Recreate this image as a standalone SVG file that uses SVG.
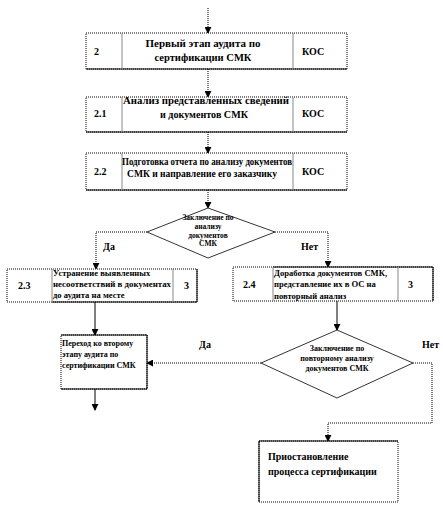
<svg xmlns="http://www.w3.org/2000/svg" width="443" height="516" viewBox="0 0 443 516">
<style>
text{font-family:"Liberation Serif","Times New Roman",serif;font-weight:bold;fill:#000;}
.t{font-size:10px;}
.n{font-size:10px;}
.m{font-size:8.6px;}
.s{font-size:7.5px;}
.p{font-size:8px;}
.q{font-size:10px;}
.box{fill:#fff;stroke:#000;stroke-width:1;stroke-dasharray:1 1;}
.solid{fill:none;stroke:#000;stroke-width:1;}
.div{stroke:#888;stroke-width:1;}
.dot{fill:none;stroke:#000;stroke-width:1;stroke-dasharray:1 1;}
.ln{fill:none;stroke:#000;stroke-width:1;}
</style>
<defs>
<marker id="ah" viewBox="0 0 8 8" refX="7" refY="4" markerWidth="7" markerHeight="7" orient="auto" markerUnits="userSpaceOnUse">
<path d="M0,0 L8,4 L0,8 z" fill="#000"/>
</marker>
</defs>
<g id="connectors">
<line class="dot" x1="208" y1="8" x2="208" y2="33" marker-end="url(#ah)"/>
<line class="dot" x1="208" y1="69" x2="208" y2="97" marker-end="url(#ah)"/>
<line class="dot" x1="208" y1="132" x2="208" y2="153" marker-end="url(#ah)"/>
<line class="dot" x1="208" y1="190" x2="208" y2="208" marker-end="url(#ah)"/>
<polyline class="dot" points="147,232 96,232 96,269" marker-end="url(#ah)"/>
<polyline class="dot" points="275,232 328,232 328,267" marker-end="url(#ah)"/>
<line class="ln" x1="337" y1="301" x2="337" y2="330" marker-end="url(#ah)"/>
<line class="ln" x1="95" y1="302" x2="95" y2="335" marker-end="url(#ah)"/>
<line class="ln" x1="95" y1="389" x2="95" y2="410" marker-end="url(#ah)"/>
<line class="dot" x1="261" y1="363" x2="147" y2="363" marker-end="url(#ah)"/>
<polyline class="dot" points="413,363 432,363 432,423 328,423 328,441" marker-end="url(#ah)"/>
<text class="t" x="103" y="250">Да</text>
<text class="t" x="301" y="250">Нет</text>
<text class="t" x="199" y="348">Да</text>
<text class="t" x="422" y="348">Нет</text>
</g>
<g id="node-2">
<rect class="box" x="86" y="33" width="261" height="36"/>
<line class="solid" x1="86" y1="69" x2="347" y2="69"/>
<line class="div" x1="122" y1="33" x2="122" y2="69"/>
<line class="div" x1="293" y1="33" x2="293" y2="69"/>
<text class="n" x="94" y="55">2</text>
<text class="t" x="203" y="47" text-anchor="middle" textLength="115" lengthAdjust="spacingAndGlyphs">Первый этап аудита по</text>
<text class="t" x="203" y="61" text-anchor="middle" textLength="97" lengthAdjust="spacingAndGlyphs">сертификации СМК</text>
<text class="n" x="302" y="55">КОС</text>
</g>
<g id="node-2-1">
<rect class="box" x="86" y="97" width="261" height="35"/>
<line class="solid" x1="86" y1="132" x2="347" y2="132"/>
<line class="div" x1="122" y1="97" x2="122" y2="132"/>
<line class="div" x1="293" y1="97" x2="293" y2="132"/>
<text class="n" x="94" y="117">2.1</text>
<text class="t" x="206" y="104" text-anchor="middle" textLength="166" lengthAdjust="spacingAndGlyphs">Анализ представленных сведений</text>
<text class="t" x="204" y="118" text-anchor="middle" textLength="88" lengthAdjust="spacingAndGlyphs">и документов СМК</text>
<text class="n" x="302" y="117">КОС</text>
</g>
<g id="node-2-2">
<rect class="box" x="86" y="153" width="261" height="37"/>
<line class="solid" x1="86" y1="190" x2="347" y2="190"/>
<line class="div" x1="122" y1="153" x2="122" y2="190"/>
<line class="div" x1="293" y1="153" x2="293" y2="190"/>
<text class="n" x="94" y="175">2.2</text>
<text class="t" x="207" y="165" text-anchor="middle" textLength="170" lengthAdjust="spacingAndGlyphs">Подготовка отчета по анализу документов</text>
<text class="t" x="202" y="177" text-anchor="middle" textLength="150" lengthAdjust="spacingAndGlyphs">СМК и направление его заказчику</text>
<text class="n" x="302" y="175">КОС</text>
</g>
<g id="decision-1">
<polygon points="208,208 275,232 208,258 147,232" fill="#fff" stroke="#000" stroke-width="0.8"/>
<text class="s" x="208" y="220" text-anchor="middle">Заключение по</text>
<text class="s" x="208" y="229" text-anchor="middle">анализу</text>
<text class="s" x="208" y="238" text-anchor="middle">документов</text>
<text class="s" x="208" y="246" text-anchor="middle">СМК</text>
</g>
<g id="node-2-3">
<rect class="box" x="7" y="269" width="190" height="33"/>
<line class="solid" x1="197" y1="269" x2="197" y2="302"/>
<line class="solid" x1="52" y1="302" x2="197" y2="302"/>
<line class="div" x1="52" y1="269" x2="52" y2="302"/>
<line class="div" x1="173" y1="269" x2="173" y2="302"/>
<text class="n" x="18" y="289">2.3</text>
<text class="m" x="53" y="276">Устранение выявленных</text>
<text class="m" x="53" y="287" textLength="118" lengthAdjust="spacingAndGlyphs">несоответствий в документах</text>
<text class="m" x="53" y="298">до аудита на месте</text>
<text class="n" x="184" y="289">3</text>
</g>
<g id="node-2-4">
<rect class="box" x="233" y="267" width="200" height="34"/>
<line class="solid" x1="273" y1="267" x2="433" y2="267"/>
<line class="solid" x1="433" y1="267" x2="433" y2="301"/>
<line class="div" x1="273" y1="267" x2="273" y2="301"/>
<line class="div" x1="398" y1="267" x2="398" y2="301"/>
<text class="n" x="243" y="288">2.4</text>
<text class="m" x="274" y="276">Доработка документов СМК,</text>
<text class="m" x="274" y="287">представление их в ОС на</text>
<text class="m" x="274" y="299">повторный анализ</text>
<text class="n" x="408" y="288">3</text>
</g>
<g id="decision-2">
<polygon points="337,330 413,363 337,398 261,363" fill="#fff" stroke="#000" stroke-width="0.8"/>
<text class="p" x="337" y="351" text-anchor="middle">Заключение по</text>
<text class="p" x="337" y="361" text-anchor="middle">повторному анализу</text>
<text class="p" x="337" y="371" text-anchor="middle">документов СМК</text>
</g>
<g id="node-perehod">
<rect class="box" x="61" y="335" width="86" height="54"/>
<polyline class="solid" points="61,335 147,335 147,389 61,389"/>
<text class="p" x="62" y="346">Переход ко второму</text>
<text class="p" x="62" y="357">этапу аудита по</text>
<text class="p" x="62" y="368">сертификации СМК</text>
</g>
<g id="node-stop">
<rect class="box" x="259" y="441" width="139" height="61"/>
<polyline class="solid" points="259,502 259,441 398,441"/>
<text class="q" x="268" y="460">Приостановление</text>
<text class="q" x="268" y="475">процесса сертификации</text>
</g>
</svg>
